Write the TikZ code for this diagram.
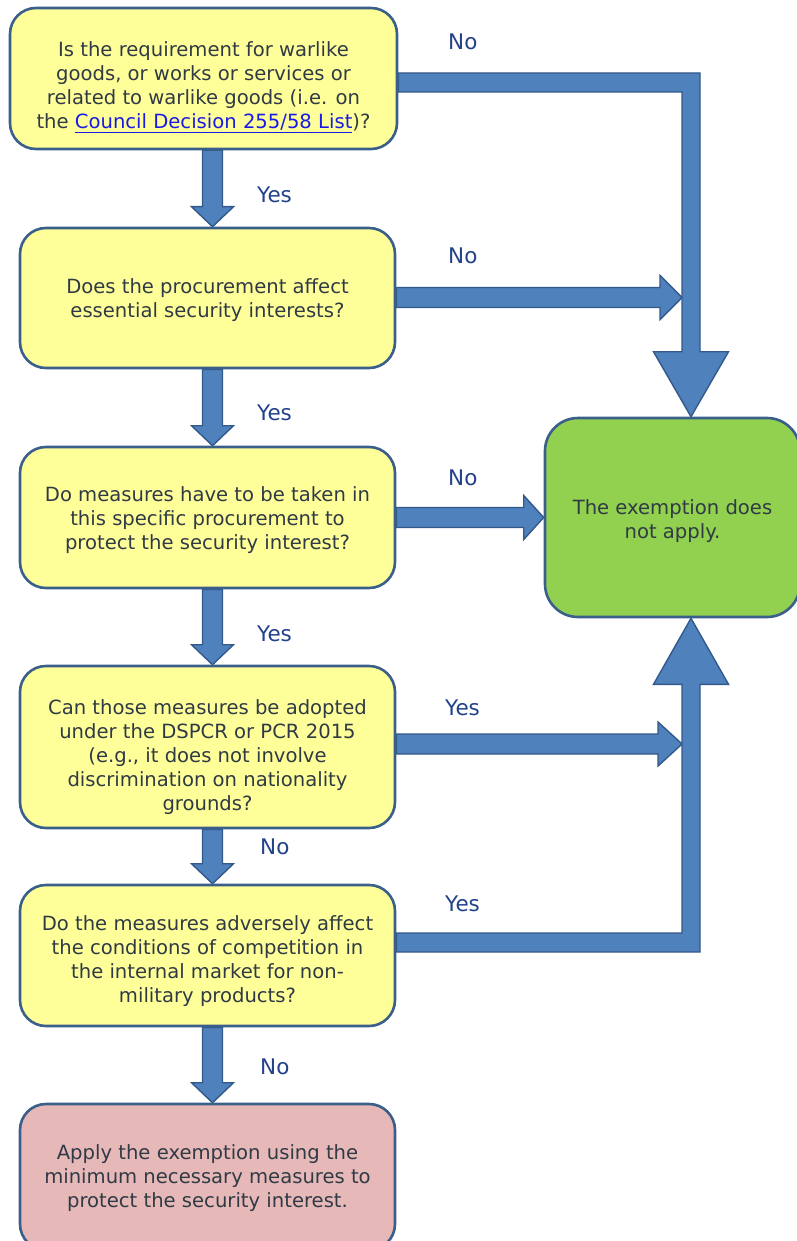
\documentclass[tikz,border=0pt]{standalone}
\usepackage{fontspec}
\setmainfont{DejaVu Sans}
\usetikzlibrary{calc,backgrounds}
\definecolor{boxline}{HTML}{3A5F8A}
\definecolor{qfill}{HTML}{FFFF99}
\definecolor{gfill}{HTML}{92D050}
\definecolor{pfill}{HTML}{E6B9B8}
\definecolor{afill}{HTML}{4F81BD}
\definecolor{aline}{HTML}{33598A}
\definecolor{txt}{HTML}{2F3A45}
\definecolor{lbltxt}{HTML}{23428A}
\definecolor{linkblue}{HTML}{1A1AE6}
\tikzset{
  qbox/.style={draw=boxline, line width=2.6pt, fill=qfill, rounded corners=26pt,
    inner sep=0pt},
  qtext/.style={align=center, text=txt, inner sep=0pt,
    font=\fontsize{19.6}{24}\selectfont},
  blockarrow/.style={fill=afill, draw=aline, line width=1.4pt, line join=miter},
  lbl/.style={anchor=west, text=lbltxt, font=\fontsize{21.5}{24}\selectfont, inner sep=0pt}
}
\newcommand\vblock[2]{%
  \draw[blockarrow] let \p1=(#1.south), \p2=($(#2.north)+(5pt,0)$) in
    (\x2-10pt,\y1) -- (\x2-10pt,\y2+20pt) -- (\x2-21pt,\y2+20pt) -- (\x2,\y2)
    -- (\x2+21pt,\y2+20pt) -- (\x2+10pt,\y2+20pt) -- (\x2+10pt,\y1) -- cycle;}
\newcommand\hblock[3]{%
  \draw[blockarrow] let \p1=(#1.east), \p2=(#2) in
    (\x1,\y2+10pt) -- (\x2-#3,\y2+10pt) -- (\x2-#3,\y2+22pt) -- (\x2,\y2)
    -- (\x2-#3,\y2-22pt) -- (\x2-#3,\y2-10pt) -- (\x1,\y2-10pt) -- cycle;}
\begin{document}
\begin{tikzpicture}[x=1pt,y=1pt]
\clip (0,0) rectangle (797,-1241);

\node[qbox, minimum width=387pt, minimum height=141pt] (b1) at (203.5,-78.5) {};
\node[qbox, minimum width=375pt, minimum height=140pt] (b2) at (207.5,-298) {};
\node[qbox, minimum width=375pt, minimum height=141pt] (b3) at (207.5,-517.5) {};
\node[qbox, minimum width=375pt, minimum height=162pt] (b4) at (207.5,-747) {};
\node[qbox, minimum width=375pt, minimum height=141pt] (b5) at (207.5,-955.5) {};
\node[qbox, fill=pfill, minimum width=375pt, minimum height=146pt] (b6) at (207.5,-1177) {};
\node[qbox, fill=gfill, rounded corners=33pt, minimum width=255pt, minimum height=199pt] (g) at (672.5,-517.5) {};

\node[qtext] (b1t) at ($(b1)+(0,-8.5)$)
  {Is the requirement for warlike\\goods, or works or services or\\related to warlike goods (i.e. on\\the \textcolor{linkblue}{\underline{Council Decision 255/58 List}})?};
\node[qtext] (b2t) at ($(b2)+(0,-2)$)
  {Does the procurement affect\\essential security interests?};
\node[qtext] (b3t) at ($(b3)+(0,-3)$)
  {Do measures have to be taken in\\this specific procurement to\\protect the security interest?};
\node[qtext] (b4t) at ($(b4)+(0,-10)$)
  {Can those measures be adopted\\under the DSPCR or PCR 2015\\(e.g., it does not involve\\discrimination on nationality\\grounds?};
\node[qtext] (b5t) at ($(b5)+(0,-6)$)
  {Do the measures adversely affect\\the conditions of competition in\\the internal market for non-\\military products?};
\node[qtext] (b6t) at ($(b6)+(0,-1.5)$)
  {Apply the exemption using the\\minimum necessary measures to\\protect the security interest.};
\node[qtext] (gt0) at ($(g)+(0,-3.5)$)
  {The exemption does\\not apply.};

\coordinate (gt) at ($(g.north)+(18.5pt,0)$);
\coordinate (gb) at ($(g.south)+(18.5pt,0)$);
\coordinate (t2) at (682,-297.5);
\coordinate (t4) at (682,-744);

\begin{scope}[on background layer]
  \fill[white] (0,0) rectangle (797,-1241);
  \vblock{b1}{b2}
  \vblock{b2}{b3}
  \vblock{b3}{b4}
  \vblock{b4}{b5}
  \vblock{b5}{b6}
  \hblock{b2}{t2}{22pt}
  \hblock{b3}{g.west}{20pt}
  \hblock{b4}{t4}{24pt}
  \draw[blockarrow] let \p1=(b1.east), \p2=(gt) in
    (\x1,\y1+5.5pt) -- (\x2+9pt,\y1+5.5pt) -- (\x2+9pt,\y2+65pt) -- (\x2+37.5pt,\y2+65pt)
    -- (\x2,\y2) -- (\x2-37.5pt,\y2+65pt) -- (\x2-9pt,\y2+65pt) -- (\x2-9pt,\y1-13.5pt)
    -- (\x1,\y1-13.5pt) -- cycle;
  \draw[blockarrow] let \p1=(b5.east), \p2=(gb) in
    (\x1,\y1+22.5pt) -- (\x2-9pt,\y1+22.5pt) -- (\x2-9pt,\y2-66pt) -- (\x2-37.5pt,\y2-66pt)
    -- (\x2,\y2) -- (\x2+37.5pt,\y2-66pt) -- (\x2+9pt,\y2-66pt) -- (\x2+9pt,\y1+3.5pt)
    -- (\x1,\y1+3.5pt) -- cycle;
\end{scope}

\node[lbl] (l1) at (448,-42) {No};
\node[lbl] (l2) at (257,-195) {Yes};
\node[lbl] (l3) at (448,-256) {No};
\node[lbl] (l4) at (257,-413) {Yes};
\node[lbl] (l5) at (448,-478) {No};
\node[lbl] (l6) at (257,-634) {Yes};
\node[lbl] (l7) at (445,-708) {Yes};
\node[lbl] (l8) at (260,-847) {No};
\node[lbl] (l9) at (445,-904) {Yes};
\node[lbl] (l10) at (260,-1067) {No};
\end{tikzpicture}
\end{document}
